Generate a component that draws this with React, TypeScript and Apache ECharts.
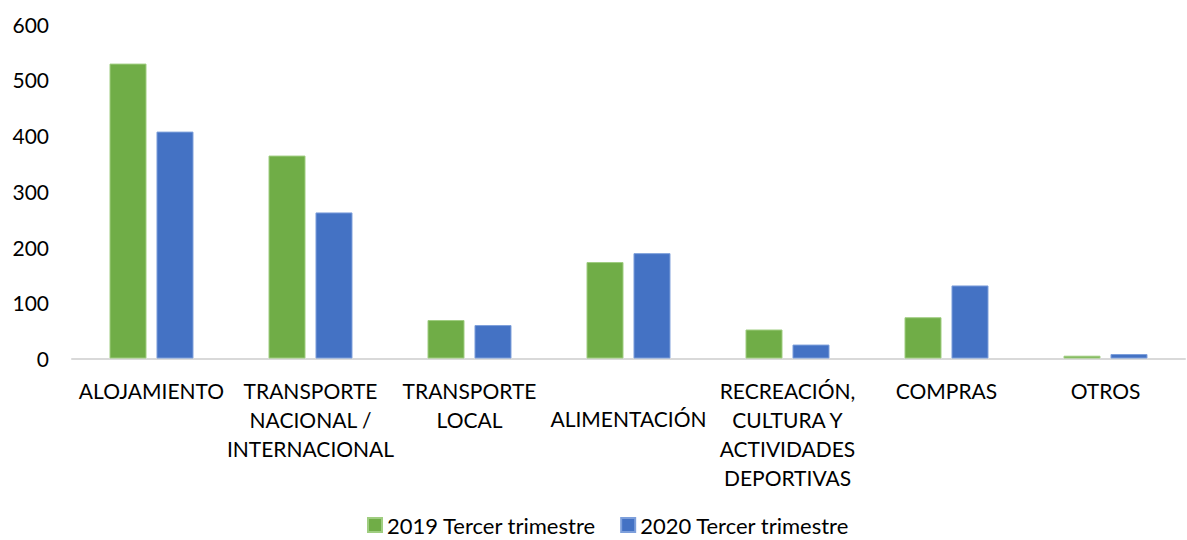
import React, { useEffect, useRef } from "react";
import * as echarts from "echarts";

const categories = [
  "ALOJAMIENTO",
  "TRANSPORTE NACIONAL / INTERNACIONAL",
  "TRANSPORTE LOCAL",
  "ALIMENTACIÓN",
  "RECREACIÓN, CULTURA Y ACTIVIDADES DEPORTIVAS",
  "COMPRAS",
  "OTROS",
];
const categoryLabels = [
  "ALOJAMIENTO",
  "TRANSPORTE\nNACIONAL /\nINTERNACIONAL",
  "TRANSPORTE\nLOCAL",
  "ALIMENTACIÓN",
  "RECREACIÓN,\nCULTURA Y\nACTIVIDADES\nDEPORTIVAS",
  "COMPRAS",
  "OTROS",
];
const series2019Name = "2019 Tercer trimestre";
const series2020Name = "2020 Tercer trimestre";
const values2019 = [529, 364, 69, 173, 52, 74, 5];
const values2020 = [407, 262, 60, 189, 25, 131, 8];

export default function App() {
  const ref = useRef<HTMLDivElement>(null);
  useEffect(() => {
    if (!ref.current) return;
    const chart = echarts.init(ref.current, undefined, { renderer: "svg" });
    const font = "Lato, 'Noto Sans', sans-serif";
    chart.setOption({
      animation: false,
      textStyle: { fontFamily: font },
      grid: { left: 72, right: 2, top: 24, bottom: 181.5, containLabel: false },
      legend: {
        top: 514,
        left: 367,
        padding: 0,
        itemWidth: 14,
        itemHeight: 14,
        itemGap: 24,
        icon: "rect",
        textStyle: { fontSize: 22, lineHeight: 21, color: "#000", fontFamily: font },
        data: [series2019Name, series2020Name],
      },
      xAxis: {
        type: "category",
        data: categories,
        axisLine: { lineStyle: { color: "#d9d9d9", width: 2 } },
        axisTick: { show: false },
        axisLabel: {
          interval: 0,
          hideOverlap: false,
          margin: 17,
          fontSize: 21,
          lineHeight: 29,
          color: "#000",
          fontFamily: font,
          formatter: (v: string) => {
            const i = categories.indexOf(v);
            const t = categoryLabels[i];
            if (v === "ALIMENTACIÓN") return "{s|" + t + "}";
            return t;
          },
          rich: {
            s: { fontSize: 21, lineHeight: 29, padding: [56, 0, 0, 0], color: "#000", fontFamily: font },
          },
        },
      },
      yAxis: {
        type: "value",
        min: 0,
        max: 600,
        interval: 100,
        splitLine: { show: false },
        axisLine: { show: false },
        axisTick: { show: false },
        axisLabel: { fontSize: 21, color: "#000", margin: 23, fontFamily: font },
      },
      series: [
        {
          name: series2019Name,
          type: "bar",
          data: values2019,
          barWidth: 37,
          barGap: "27%",
          itemStyle: { color: "#70AD47", borderColor: "#9fcd80", borderWidth: 1 },
        },
        {
          name: series2020Name,
          type: "bar",
          data: values2020,
          barWidth: 37,
          itemStyle: { color: "#4472C4", borderColor: "#7d9fdb", borderWidth: 1 },
        },
      ],
    });
    return () => chart.dispose();
  }, []);
  return (
    <div
      ref={ref}
      style={{ position: "absolute", left: 0, top: 0, width: 1187, height: 540 }}
    />
  );
}
